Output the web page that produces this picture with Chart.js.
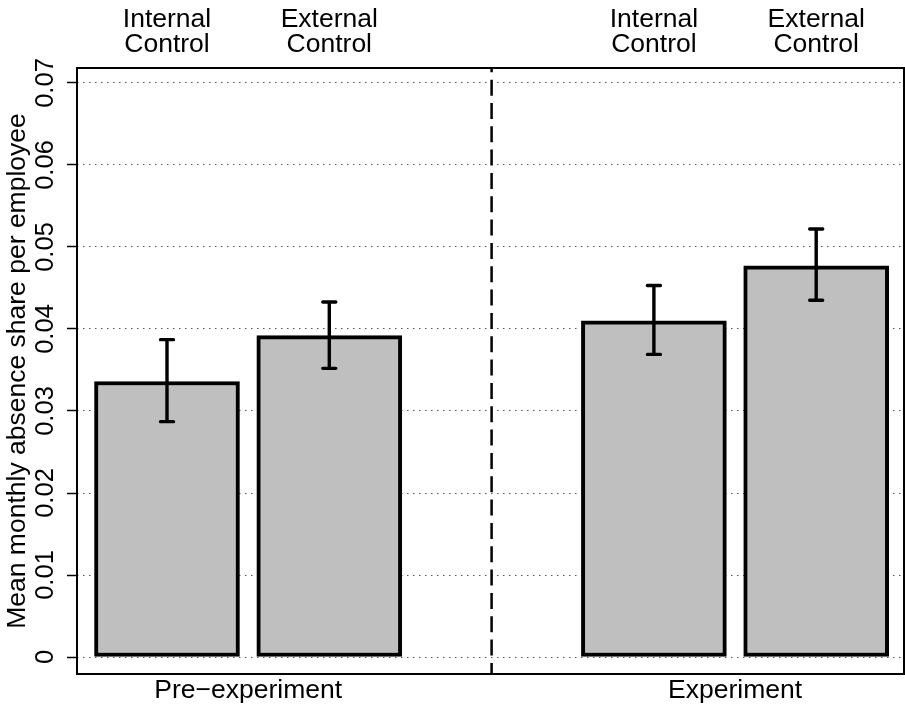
<!DOCTYPE html>
<html>
<head>
<meta charset="utf-8">
<script src="https://cdn.jsdelivr.net/npm/chart.js@4.4.1/dist/chart.umd.min.js"></script>
<style>
  html, body { margin: 0; padding: 0; background: #ffffff; }
  canvas { display: block; }
</style>
</head>
<body>
<canvas id="chart" width="905" height="705"></canvas>
<script>
// Periods and conditions
const groups = ['Pre\u2212experiment', 'Experiment'];
const conditions = [['Internal', 'Control'], ['External', 'Control']];

// Mean monthly absence share per employee, with interval bounds
const preMeans = [0.0336, 0.0392];
const expMeans = [0.0410, 0.0477];
const preLow   = [0.0287, 0.0352];
const preHigh  = [0.0387, 0.0433];
const expLow   = [0.0369, 0.0435];
const expHigh  = [0.0453, 0.0522];

// Y axis ticks
const yTicks = [0, 0.01, 0.02, 0.03, 0.04, 0.05, 0.06, 0.07];
const yTickLabels = ['0', '0.01', '0.02', '0.03', '0.04', '0.05', '0.06', '0.07'];

const yTitle = 'Mean monthly absence share per employee';

const means = [preMeans, expMeans];
const lows = [preLow, expLow];
const highs = [preHigh, expHigh];

// each period takes two bar slots, with one empty slot between periods
const slotOf = (g, c) => g * (conditions.length + 1) + c;

const points = [];
const whiskers = [];
groups.forEach((g, gi) => {
  conditions.forEach((c, ci) => {
    points.push({ x: slotOf(gi, ci), y: means[gi][ci] });
    whiskers.push({ x: slotOf(gi, ci), lo: lows[gi][ci], hi: highs[gi][ci] });
  });
});

const FAMILY = '"Liberation Sans", Arial, Helvetica, sans-serif';
const LABEL_FONT = '26.5px ' + FAMILY;
const TICK_FONT = '25.5px ' + FAMILY;

const decorations = {
  id: 'decorations',
  beforeDraw(chart) {
    const ctx = chart.ctx;
    ctx.save();
    ctx.fillStyle = '#ffffff';
    ctx.fillRect(0, 0, chart.width, chart.height);
    ctx.restore();
  },
  afterDatasetsDraw(chart) {
    const ctx = chart.ctx;
    const xs = chart.scales.x;
    const ys = chart.scales.y;
    const area = chart.chartArea;

    // error bars
    ctx.save();
    ctx.strokeStyle = '#000000';
    ctx.lineWidth = 3.4;
    ctx.lineCap = 'round';
    whiskers.forEach(w => {
      const px = xs.getPixelForValue(w.x);
      const pLo = ys.getPixelForValue(w.lo);
      const pHi = ys.getPixelForValue(w.hi);
      ctx.beginPath();
      ctx.moveTo(px, pLo);
      ctx.lineTo(px, pHi);
      ctx.moveTo(px - 6.5, pHi);
      ctx.lineTo(px + 6.5, pHi);
      ctx.moveTo(px - 6.5, pLo);
      ctx.lineTo(px + 6.5, pLo);
      ctx.stroke();
    });
    ctx.restore();

    // dashed divider between periods
    const divX = xs.getPixelForValue(slotOf(1, 0) - 1);
    ctx.save();
    ctx.strokeStyle = '#000000';
    ctx.lineWidth = 2.5;
    ctx.setLineDash([16, 7.33]);
    ctx.lineDashOffset = 11.7;
    ctx.beginPath();
    ctx.moveTo(divX, area.top);
    ctx.lineTo(divX, area.bottom);
    ctx.stroke();
    ctx.restore();

    // plot frame
    ctx.save();
    ctx.strokeStyle = '#000000';
    ctx.lineWidth = 2;
    ctx.strokeRect(area.left, area.top, area.right - area.left, area.bottom - area.top);
    ctx.restore();

    ctx.save();
    ctx.fillStyle = '#000000';
    ctx.textAlign = 'center';
    ctx.textBaseline = 'alphabetic';

    // condition labels above the plot
    ctx.font = LABEL_FONT;
    groups.forEach((g, gi) => {
      conditions.forEach((lines, ci) => {
        const px = xs.getPixelForValue(slotOf(gi, ci));
        ctx.fillText(lines[0], px, 27);
        ctx.fillText(lines[1], px, 52);
      });
    });

    // period labels below the plot
    groups.forEach((g, gi) => {
      const mid = (slotOf(gi, 0) + slotOf(gi, conditions.length - 1)) / 2;
      ctx.fillText(g, xs.getPixelForValue(mid), 698);
    });

    // y axis title
    ctx.save();
    ctx.translate(25, (area.top + area.bottom) / 2);
    ctx.rotate(-Math.PI / 2);
    ctx.fillText(yTitle, 0, 0);
    ctx.restore();

    // rotated y tick labels
    ctx.font = TICK_FONT;
    ys.ticks.forEach((t, i) => {
      const py = ys.getPixelForValue(t.value);
      ctx.save();
      ctx.translate(53, py);
      ctx.rotate(-Math.PI / 2);
      ctx.fillText(yTickLabels[i], 0, 0);
      ctx.restore();
    });

    ctx.restore();
  }
};

new Chart(document.getElementById('chart'), {
  type: 'bar',
  data: {
    datasets: [{
      data: points,
      backgroundColor: '#BFBFBF',
      borderColor: '#000000',
      borderWidth: 4,
      borderSkipped: false,
      barThickness: 145
    }]
  },
  options: {
    responsive: false,
    animation: false,
    events: [],
    layout: { padding: { top: 68, right: 1, bottom: 31, left: 0 } },
    plugins: {
      legend: { display: false },
      tooltip: { enabled: false }
    },
    scales: {
      x: {
        type: 'linear',
        min: -0.5545,
        max: 4.541,
        offset: false,
        display: false
      },
      y: {
        min: -0.002073,
        max: 0.071829,
        afterBuildTicks: scale => {
          scale.ticks = yTicks.map(v => ({ value: v }));
        },
        afterFit: scale => {
          scale.width = 77;
        },
        ticks: { display: false },
        grid: {
          color: '#555555',
          lineWidth: 1,
          drawTicks: true,
          tickLength: 10,
          tickColor: '#000000',
          tickWidth: 1.5,
          tickBorderDash: []
        },
        border: { display: false, dash: [1.5, 4.5] }
      }
    }
  },
  plugins: [decorations]
});
</script>
</body>
</html>
